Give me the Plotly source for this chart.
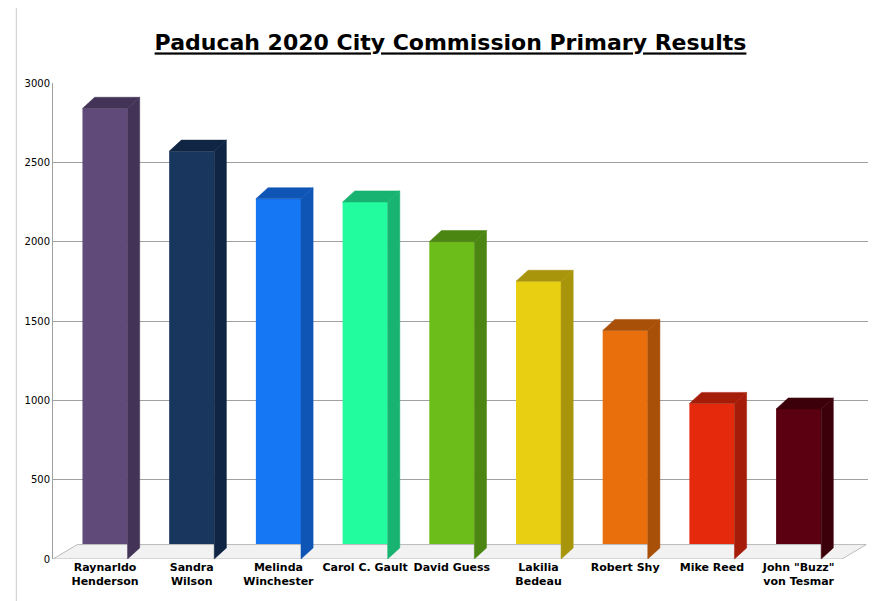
import plotly.graph_objects as go

candidates = ["Raynarldo<br>Henderson", "Sandra<br>Wilson", "Melinda<br>Winchester",
              "Carol C. Gault", "David Guess", "Lakilia<br>Bedeau", "Robert Shy",
              "Mike Reed", "John \"Buzz\"<br>von Tesmar"]
votes = [2840, 2570, 2270, 2250, 2000, 1750, 1440, 980, 945]
front_colors = ["#5f4a7a", "#18365e", "#1677f5", "#22fc9e", "#6cbd1a",
                "#e8cf12", "#e86f0c", "#e4290c", "#5a0010"]
side_colors = ["#433357", "#0f2543", "#0f55b5", "#18b371", "#4c8612",
               "#a9950c", "#a84f08", "#a51d08", "#3c000a"]

xs = list(range(len(votes)))
half = 0.26
dx, dy = 0.14, 70

fig = go.Figure()
# floor
fig.add_trace(go.Scatter(x=[-0.6, 8.5, 8.5 + dx * 2, -0.6 + dx * 2, -0.6],
                         y=[0, 0, dy * 1.3, dy * 1.3, 0], fill="toself",
                         fillcolor="#f2f2f2", line=dict(color="#bbbbbb", width=1),
                         mode="lines", hoverinfo="skip", showlegend=False))
fig.add_trace(go.Bar(x=xs, y=votes, width=half * 2, marker_color=front_colors,
                     marker_line_width=0, showlegend=False))
for x, v, fc, sc in zip(xs, votes, front_colors, side_colors):
    # side face
    fig.add_trace(go.Scatter(x=[x + half, x + half + dx, x + half + dx, x + half, x + half],
                             y=[0, dy, v + dy, v, 0], fill="toself", fillcolor=sc,
                             line=dict(color=sc, width=0.5), mode="lines",
                             hoverinfo="skip", showlegend=False))
    # top face
    fig.add_trace(go.Scatter(x=[x - half, x + half, x + half + dx, x - half + dx, x - half],
                             y=[v, v, v + dy, v + dy, v], fill="toself", fillcolor=sc,
                             line=dict(color=sc, width=0.5), mode="lines",
                             hoverinfo="skip", showlegend=False))

fig.update_layout(
    width=885, height=601,
    paper_bgcolor="white", plot_bgcolor="white",
    margin=dict(l=45, r=25, t=75, b=50),
    title=dict(text="<u><b>Paducah 2020 City Commission Primary Results</b></u>",
               x=0.5, y=0.955, font=dict(family="DejaVu Sans", size=22, color="black")),
    font=dict(family="DejaVu Sans", color="black"),
    xaxis=dict(tickmode="array", tickvals=xs, ticktext=[f"<b>{c}</b>" for c in candidates],
               tickfont=dict(size=11), range=[-0.6, 8.8], showgrid=False, zeroline=False),
    yaxis=dict(range=[0, 3000], dtick=500, tickfont=dict(size=10), showgrid=True,
               gridcolor="#a0a0a0", gridwidth=1, zeroline=False,
               showline=True, linecolor="#a0a0a0"),
    shapes=[dict(type="rect", xref="paper", yref="paper", x0=-0.045, x1=1.025,
                 y0=-0.105, y1=1.16, line=dict(color="#cccccc", width=1))],
)
fig.write_html("out.html")
